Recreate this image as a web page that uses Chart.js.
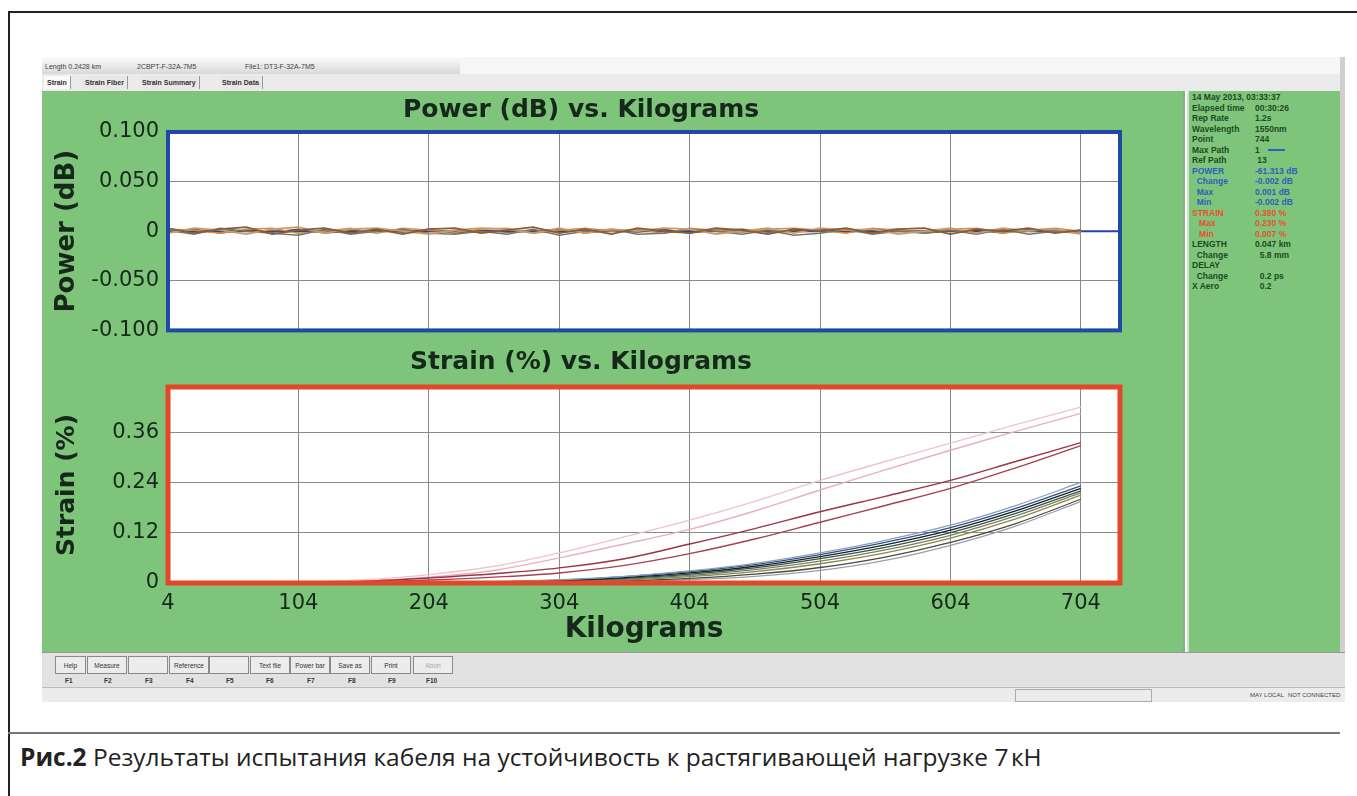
<!DOCTYPE html>
<html>
<head>
<meta charset="utf-8">
<script src="https://cdn.jsdelivr.net/npm/chart.js@4.4.1/dist/chart.umd.min.js"></script>
<style>
  body { margin: 0; width: 1357px; height: 796px; overflow: hidden; background: #fff; position: relative; font-family: "Liberation Sans", Arial, sans-serif; }
  .abs { position: absolute; }
  #frame { left: 8px; top: 11px; width: 1400px; height: 800px; border-top: 2px solid #222; border-left: 2px solid #222; }
  #shot { left: 42px; top: 57px; width: 1303px; height: 645px; background: #e4e4e4; }
  #infobar { left: 42px; top: 57px; width: 418px; height: 17px; background: linear-gradient(#fbfbfb, #d9d9d9); font-size: 7px; color: #444; }
  #infobar span { position: absolute; top: 6px; }
  #topright { left: 460px; top: 57px; width: 885px; height: 17px; background: #f6f6f6; }
  #tabs { left: 42px; top: 74px; width: 1303px; height: 17px; background: #ebebeb; border-bottom: 1px solid #aaa; }
  .tab { position: absolute; top: 2px; height: 13px; font-size: 7px; font-weight: bold; color: #333; line-height: 13px; padding: 0 3px; border-right: 1px solid #999; background: #e8e8e8; }
  #green { left: 42px; top: 91px; width: 1301px; height: 561px; background: #7ec57b; }
  #sep { left: 1183px; top: 91px; width: 6px; height: 561px; background: linear-gradient(90deg, #8fa98d 0, #8fa98d 2px, #ffffff 2px, #ffffff 4px, #cfe6cd 4px); }
  #side { left: 1192px; top: 92px; width: 148px; font-size: 8.5px; font-weight: bold; color: #1d4a1f; line-height: 10.5px; }
  #side div { position: relative; height: 10.5px; white-space: nowrap; }
  #side .v { position: absolute; left: 63px; top: 0; }
  #side .blue { color: #2d5fbd; }
  #side .red { color: #e6512b; }
  #sidegray { left: 1340px; top: 57px; width: 5px; height: 645px; background: #cfcfcf; }
  #toolbar { left: 42px; top: 652px; width: 1303px; height: 35px; background: #e2e2e2; border-top: 1px solid #999; }
  .btn { position: absolute; top: 3px; height: 18px; font-size: 6.5px; line-height: 18px; text-align: center; color: #333; background: #ececec; border: 1px solid #8a8a8a; box-sizing: border-box; }
  .fk { position: absolute; top: 24px; font-size: 6.5px; color: #333; font-weight: bold; }
  #status { left: 42px; top: 687px; width: 1303px; height: 14px; background: #ececec; border-top: 1px solid #bbb; font-size: 6px; color: #444; }
  #status span { position: absolute; top: 4px; white-space: nowrap; }
  #caprule { left: 8px; top: 732px; width: 1332px; height: 2px; background: #777; }
  #caption { left: 20px; top: 740px; font-family: "Open Sans", "Noto Sans", sans-serif; font-size: 24.5px; color: #222; white-space: nowrap; }
  canvas { position: absolute; }
</style>
</head>
<body>
<div id="frame" class="abs"></div>
<div id="shot" class="abs"></div>
<div id="infobar" class="abs">
  <span style="left:3px">Length 0.2428 km</span>
  <span style="left:95px">2CBPT-F-32A-7M5</span>
  <span style="left:203px">File1: DT3-F-32A-7M5</span>
</div>
<div id="topright" class="abs"></div>
<div id="tabs" class="abs">
  <div class="tab" style="left:2px;background:#fafafa">Strain</div>
  <div class="tab" style="left:40px">Strain Fiber</div>
  <div class="tab" style="left:97px">Strain Summary</div>
  <div class="tab" style="left:177px">Strain Data</div>
</div>
<div id="green" class="abs"></div>
<div id="sep" class="abs"></div>
<div id="sidegray" class="abs"></div>
<div id="side" class="abs">
  <div>14 May 2013, 03:33:37</div>
  <div>Elapsed time<span class="v">00:30:26</span></div>
  <div>Rep Rate<span class="v">1.2s</span></div>
  <div>Wavelength<span class="v">1550nm</span></div>
  <div>Point<span class="v">744</span></div>
  <div>Max Path<span class="v">1 <span style="display:inline-block;width:17px;height:2px;background:#2d5fbd;vertical-align:middle;margin-left:6px"></span></span></div>
  <div>Ref Path<span class="v">&nbsp;13</span></div>
  <div class="blue">POWER<span class="v">-61.313 dB</span></div>
  <div class="blue">&nbsp;&nbsp;Change<span class="v">-0.002 dB</span></div>
  <div class="blue">&nbsp;&nbsp;Max<span class="v">0.001 dB</span></div>
  <div class="blue">&nbsp;&nbsp;Min<span class="v">-0.002 dB</span></div>
  <div class="red">STRAIN<span class="v">0.380 %</span></div>
  <div class="red">&nbsp;&nbsp;&nbsp;Max<span class="v">0.230 %</span></div>
  <div class="red">&nbsp;&nbsp;&nbsp;Min<span class="v">0.007 %</span></div>
  <div>LENGTH<span class="v">0.047 km</span></div>
  <div>&nbsp;&nbsp;Change<span class="v">&nbsp;&nbsp;5.8 mm</span></div>
  <div>DELAY</div>
  <div>&nbsp;&nbsp;Change<span class="v">&nbsp;&nbsp;0.2 ps</span></div>
  <div>X Aero<span class="v">&nbsp;&nbsp;0.2</span></div>
</div>
<div id="toolbar" class="abs">
  <div class="btn" style="left:13px;width:31px">Help</div>
  <div class="btn" style="left:45px;width:40px">Measure</div>
  <div class="btn" style="left:86px;width:40px"></div>
  <div class="btn" style="left:127px;width:40px">Reference</div>
  <div class="btn" style="left:167px;width:40px"></div>
  <div class="btn" style="left:208px;width:40px">Text file</div>
  <div class="btn" style="left:248px;width:40px">Power bar</div>
  <div class="btn" style="left:288px;width:40px">Save as</div>
  <div class="btn" style="left:329px;width:40px">Print</div>
  <div class="btn" style="left:371px;width:40px;color:#aaa">Abort</div>
  <span class="fk" style="left:23px">F1</span>
  <span class="fk" style="left:62px">F2</span>
  <span class="fk" style="left:103px">F3</span>
  <span class="fk" style="left:144px">F4</span>
  <span class="fk" style="left:184px">F5</span>
  <span class="fk" style="left:224px">F6</span>
  <span class="fk" style="left:265px">F7</span>
  <span class="fk" style="left:306px">F8</span>
  <span class="fk" style="left:346px">F9</span>
  <span class="fk" style="left:384px">F10</span>
</div>
<div id="status" class="abs">
  <div style="position:absolute;left:973px;top:1px;width:135px;height:11px;border:1px solid #aaa"></div>
  <span style="left:1208px">MAY LOCAL</span>
  <span style="left:1246px">NOT CONNECTED</span>
</div>
<div id="caprule" class="abs"></div>
<div id="caption" class="abs"><b>Рис.2</b> Результаты испытания кабеля на устойчивость к растягивающей нагрузке 7&#8202;кН</div>

<canvas id="powerChart" width="1145" height="262" style="left:42px;top:90px;width:1145px;height:262px"></canvas>
<canvas id="strainChart" width="1145" height="310" style="left:42px;top:340px;width:1145px;height:310px"></canvas>

<script>
// axes
const kgTicks = [4, 104, 204, 304, 404, 504, 604, 704];
const powerTicks = [-0.1, -0.05, 0, 0.05, 0.1];
const strainTicks = [0, 0.12, 0.24, 0.36];

// power traces (dB), every 20 kg
const powerKg = [4, 24, 44, 64, 84, 104, 124, 144, 164, 184, 204, 224, 244, 264, 284, 304, 324, 344,
                 364, 384, 404, 424, 444, 464, 484, 504, 524, 544, 564, 584, 604, 624, 644, 664, 684, 704];
const powerBrown = [0.003, -0.002, 0.002, 0.004, -0.003, 0.001, 0.003, -0.002, 0.002, -0.003, 0.002, 0.003,
                    -0.002, 0.001, 0.004, -0.002, 0.002, -0.003, 0.003, 0.000, -0.002, 0.003, 0.001, -0.003,
                    0.002, 0.000, 0.003, -0.002, 0.002, 0.003, -0.003, 0.002, 0.000, 0.003, -0.002, 0.001];
const powerTan = [-0.002, 0.003, 0.001, -0.003, 0.002, 0.004, -0.002, 0.002, 0.003, 0.000, -0.003, 0.001,
                  0.003, 0.002, -0.002, 0.003, -0.002, 0.002, 0.000, 0.003, 0.002, -0.003, 0.000, 0.003,
                  -0.002, 0.003, 0.001, 0.002, -0.003, 0.000, 0.003, -0.002, 0.003, 0.000, 0.002, -0.003];
const powerGrey = [0.001, -0.003, 0.003, 0.000, -0.002, -0.004, 0.002, -0.003, 0.000, 0.002, -0.002, -0.003,
                   0.000, -0.003, 0.002, -0.004, 0.000, 0.002, -0.003, -0.002, 0.002, 0.000, -0.003, 0.001,
                   -0.004, -0.002, 0.002, -0.003, 0.000, -0.002, 0.001, -0.003, 0.002, -0.003, 0.000, -0.002];
const powerOrange = [0.002, 0.001, -0.002, 0.002, 0.003, -0.002, 0.000, 0.003, -0.002, 0.003, 0.001, -0.001,
                     0.002, 0.003, -0.002, 0.001, 0.003, 0.000, 0.002, -0.002, 0.003, 0.001, -0.001, 0.002,
                     0.003, 0.001, -0.002, 0.003, 0.001, -0.001, 0.002, 0.003, -0.002, 0.001, 0.003, 0.000];
const powerDark = [-0.001, 0.002, -0.002, 0.001, -0.001, 0.002, -0.002, 0.000, 0.001, -0.001, 0.002, -0.002,
                   0.001, -0.001, 0.000, 0.002, -0.002, 0.001, -0.001, 0.002, -0.002, 0.001, 0.002, -0.001,
                   0.000, 0.002, -0.001, 0.001, 0.002, -0.002, 0.000, 0.001, -0.002, 0.002, -0.001, 0.001];
const refKg = [4, 734];
const refPower = [0, 0];

// strain traces (%), every 50 kg
const strainKg = [4, 54, 104, 154, 204, 254, 304, 354, 404, 454, 504, 554, 604, 654, 704];
const strainPink1 = [0, 0, 0.002, 0.008, 0.02, 0.04, 0.072, 0.11, 0.15, 0.195, 0.245, 0.29, 0.334, 0.378, 0.42];
const strainPink2 = [0, 0, 0.001, 0.005, 0.014, 0.03, 0.06, 0.093, 0.128, 0.172, 0.222, 0.27, 0.317, 0.362, 0.405];
const strainRed1 = [0, 0, 0.001, 0.004, 0.012, 0.022, 0.036, 0.058, 0.093, 0.13, 0.17, 0.207, 0.245, 0.29, 0.335];
const strainRed2 = [0, 0, 0, 0.002, 0.007, 0.014, 0.024, 0.042, 0.07, 0.105, 0.145, 0.185, 0.226, 0.275, 0.328];
const strainC1 = [0, 0, 0, 0, 0.001, 0.003, 0.008, 0.016, 0.029, 0.047, 0.072, 0.102, 0.138, 0.185, 0.24];
const strainC2 = [0, 0, 0, 0, 0.001, 0.003, 0.007, 0.015, 0.027, 0.044, 0.068, 0.097, 0.132, 0.178, 0.232];
const strainC3 = [0, 0, 0, 0, 0.001, 0.002, 0.006, 0.013, 0.024, 0.04, 0.063, 0.091, 0.126, 0.172, 0.226];
const strainC4 = [0, 0, 0, 0, 0, 0.002, 0.005, 0.011, 0.021, 0.036, 0.058, 0.085, 0.12, 0.166, 0.22];
const strainC5 = [0, 0, 0, 0, 0, 0.001, 0.004, 0.009, 0.018, 0.032, 0.052, 0.079, 0.114, 0.16, 0.215];
const strainC6 = [0, 0, 0, 0, 0, 0.001, 0.003, 0.007, 0.015, 0.027, 0.046, 0.072, 0.107, 0.153, 0.21];
const strainC7 = [0, 0, 0, 0, 0, 0.001, 0.002, 0.005, 0.011, 0.021, 0.037, 0.062, 0.097, 0.142, 0.2];
const strainC8 = [0, 0, 0, 0, 0, 0, 0.001, 0.004, 0.008, 0.016, 0.03, 0.054, 0.09, 0.136, 0.195];
const strainBase = [0.001, 0.002, 0.001, 0.002, 0.001, 0.001, 0.002, 0.001, 0.002, 0.001, 0.002, 0.001, 0.001, 0.002, 0.001];

const ink = '#15281a';
const gridColor = '#8a8a8a';
const fontFamily = '"DejaVu Sans", sans-serif';

function pts(xs, ys) {
    return xs.map((x, i) => ({ x: x, y: ys[i] }));
}

function trace(xs, ys, color, width, tension) {
    return {
        data: pts(xs, ys),
        borderColor: color,
        borderWidth: width,
        pointRadius: 0,
        tension: tension,
        fill: false
    };
}

// white plot area + thick coloured frame
const plotFrame = {
    id: 'plotFrame',
    beforeDraw(chart) {
        const a = chart.chartArea;
        chart.ctx.save();
        chart.ctx.fillStyle = '#ffffff';
        chart.ctx.fillRect(a.left, a.top, a.width, a.height);
        chart.ctx.restore();
    },
    afterDatasetsDraw(chart, args, opts) {
        const a = chart.chartArea;
        const ctx = chart.ctx;
        ctx.save();
        ctx.strokeStyle = opts.color;
        ctx.lineWidth = opts.width;
        ctx.strokeRect(a.left, a.top, a.width, a.height);
        ctx.restore();
    }
};

function xScale(showTicks, height) {
    return {
        type: 'linear',
        min: 4,
        max: 734,
        afterBuildTicks: s => { s.ticks = kgTicks.map(v => ({ value: v })); },
        afterFit: s => { s.height = height; },
        grid: { color: gridColor, drawTicks: false },
        border: { display: false },
        ticks: {
            display: showTicks,
            autoSkip: false,
            maxRotation: 0,
            padding: 8,
            color: ink,
            font: { family: fontFamily, size: 21 }
        },
        title: {
            display: showTicks,
            text: 'Kilograms',
            color: ink,
            font: { family: fontFamily, size: 28, weight: 'bold' },
            padding: { top: 0, bottom: 3 }
        }
    };
}

function yScale(min, max, tickList, digits, label, labelSize) {
    return {
        min: min,
        max: max,
        afterBuildTicks: s => { s.ticks = tickList.map(v => ({ value: v })); },
        afterFit: s => { s.width = 126; },
        grid: { color: gridColor, drawTicks: false },
        border: { display: false },
        ticks: {
            padding: 9,
            color: ink,
            font: { family: fontFamily, size: 21 },
            callback: v => (v === 0 ? '0' : v.toFixed(digits))
        },
        title: {
            display: true,
            text: label,
            color: ink,
            font: { family: fontFamily, size: labelSize, weight: 'bold' },
            padding: { top: 10, bottom: 0 }
        }
    };
}

// Power chart
new Chart(document.getElementById('powerChart'), {
    type: 'line',
    data: {
        datasets: [
            trace(powerKg, powerBrown, '#8a5a3a', 1.7, 0),
            trace(powerKg, powerTan, '#c79b6c', 1.7, 0),
            trace(powerKg, powerGrey, '#6f7a68', 1.5, 0),
            trace(powerKg, powerOrange, '#d48a4c', 1.5, 0),
            trace(powerKg, powerDark, '#5a4a44', 1.3, 0),
            trace(refKg, refPower, '#2444a0', 2, 0)
        ]
    },
    options: {
        responsive: false,
        animation: false,
        layout: { padding: { left: 0, right: 67, top: 0, bottom: 0 } },
        plugins: {
            legend: { display: false },
            tooltip: { enabled: false },
            title: {
                display: true,
                text: 'Power (dB) vs. Kilograms',
                color: ink,
                font: { family: fontFamily, size: 25, weight: 'bold' },
                padding: { top: 5, bottom: 7 }
            },
            plotFrame: { color: '#2049a6', width: 4 }
        },
        scales: {
            x: xScale(false, 21),
            y: yScale(-0.1, 0.1, powerTicks, 3, 'Power (dB)', 26)
        }
    },
    plugins: [plotFrame]
});

// Strain chart
new Chart(document.getElementById('strainChart'), {
    type: 'line',
    data: {
        datasets: [
            trace(strainKg, strainBase, '#d9803a', 1.5, 0.3),
            trace(strainKg, strainC1, '#8aa0b8', 1.3, 0.35),
            trace(strainKg, strainC2, '#2f4f8f', 1.3, 0.35),
            trace(strainKg, strainC3, '#1e1e1e', 1.3, 0.35),
            trace(strainKg, strainC4, '#2f5a3a', 1.3, 0.35),
            trace(strainKg, strainC5, '#7a7a7a', 1.3, 0.35),
            trace(strainKg, strainC6, '#8a8a3a', 1.3, 0.35),
            trace(strainKg, strainC7, '#4a4a4a', 1.3, 0.35),
            trace(strainKg, strainC8, '#9aa0a0', 1.3, 0.35),
            trace(strainKg, strainRed1, '#9b3444', 1.4, 0.35),
            trace(strainKg, strainRed2, '#a8404e', 1.4, 0.35),
            trace(strainKg, strainPink1, '#efc3cb', 1.4, 0.35),
            trace(strainKg, strainPink2, '#e8b0bb', 1.4, 0.35)
        ]
    },
    options: {
        responsive: false,
        animation: false,
        layout: { padding: { left: 0, right: 67, top: 0, bottom: 0 } },
        plugins: {
            legend: { display: false },
            tooltip: { enabled: false },
            title: {
                display: true,
                text: 'Strain (%) vs. Kilograms',
                color: ink,
                font: { family: fontFamily, size: 25, weight: 'bold' },
                padding: { top: 7, bottom: 10 }
            },
            plotFrame: { color: '#e2472c', width: 5 }
        },
        scales: {
            x: xScale(true, 67),
            y: yScale(0, 0.468, strainTicks, 2, 'Strain (%)', 25)
        }
    },
    plugins: [plotFrame]
});
</script>
</body>
</html>
